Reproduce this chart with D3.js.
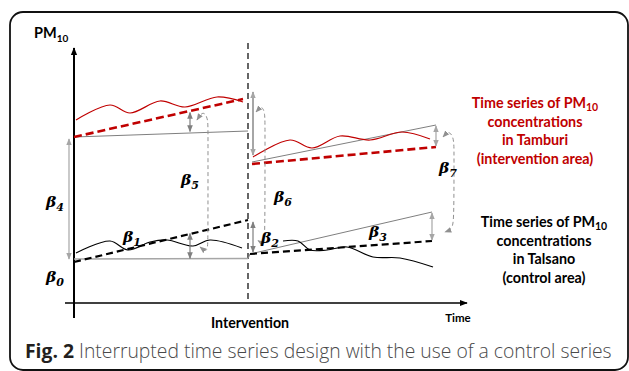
<!DOCTYPE html>
<html>
<head>
<meta charset="utf-8">
<script src="https://cdn.jsdelivr.net/npm/d3@7"></script>
<style>
  body { margin: 0; background: #fff; }
  svg { display: block; }
</style>
</head>
<body>
<svg id="chart"></svg>
<script>
// schematic units: time 0-100, PM10 0-100
const tamburiPre = [[0.5,73.2],[9,79.2],[14,76],[21.5,80.8],[27.75,78.4],[35.75,82.4],[42.25,80.4]];
const tamburiPost = [[44.75,58.4],[54,65.2],[59.5,62],[66.5,66.8],[74,65.2],[82,68.4],[89,65.6]];
const talsanoPre = [[0.5,20],[9,24.8],[13.5,21.2],[19,24.4],[23.25,25.2],[29.75,22.8],[34,25.2],[42,22]];
const talsanoPost = [[52.25,24.8],[56,24.8],[59,21.2],[63.25,21.2],[68.25,22.4],[74.75,18.4],[81.5,18],[89.75,14.4]];

const tamburiTrendPre = [[0,66.4],[42.25,81.6]];
const tamburiTrendPost = [[44.5,55.6],[90.5,62.4]];
const tamburiCounterPre = [[0,66.4],[43.5,68.8]];
const tamburiCounterPost = [[44.5,56.4],[90.5,71.2]];
const talsanoTrendPre = [[0,16.4],[43.5,33.2]];
const talsanoTrendPost = [[44,19.6],[89.5,24.8]];
const talsanoCounterPre = [[0,17.6],[43.5,17.8]];
const talsanoCounterPost = [[43.5,17.8],[44,19.6],[89.5,36.4]];

const interventionT = 43.5;

// [time, from, to] of the gap arrows, beta 4,5,1,6,2,7,3
const gapArrows = [[-1.25,65.6,17.6],[29,68.6,76.2],[29,17.8,27.8],[44.75,84.4,59.2],[44.75,32.4,20.4],[90.5,70.8,62.8],[89.5,36,25.2]];

// dashed links between paired gaps
const linkB5B1 = [[30.75,73.2],[32.25,77],[33.5,74],[33.5,69],[33.5,25],[33.4,20],[31.5,22.4]];
const linkB6B2 = [[45.5,76.4],[47,79],[47.75,76],[47.75,70],[47.75,28],[47.5,23.5],[46,25]];
const linkB7B3 = [[92.25,66.4],[93.75,69],[95,66],[95,60],[95,34],[94.6,29.5],[92.75,28.4]];

const betaNames = ["0","4","1","5","6","2","3","7"];
const betaT = [-4.75,-4.75,14.5,29,52.25,49,76,93.5];
const betaV = [10.4,40.4,26.4,49.2,42.4,26,28.4,54];

const redLabel = ["Time series of PM|10","concentrations","in Tamburi","(intervention area)"];
const blackLabel = ["Time series of PM|10","concentrations","in Talsano","(control area)"];

const W = 629, H = 371;
const red = "#c00000";

const svg = d3.select("#chart").attr("width", W).attr("height", H);

const x = d3.scaleLinear().domain([0, 100]).range([74, 474]);
const y = d3.scaleLinear().domain([0, 100]).range([303, 53]);

const defs = svg.append("defs");
function marker(id, color, size) {
  defs.append("marker")
    .attr("id", id)
    .attr("viewBox", "0 0 10 10")
    .attr("refX", 9).attr("refY", 5)
    .attr("markerUnits", "userSpaceOnUse")
    .attr("markerWidth", size).attr("markerHeight", size)
    .attr("orient", "auto-start-reverse")
    .append("path").attr("d", "M0,1L10,5L0,9z").attr("fill", color);
}
marker("axisHead", "#000", 8);
marker("grayHead", "#7f7f7f", 7);
marker("lightHead", "#a6a6a6", 7);
marker("linkHead", "#909090", 7);

// frame
svg.append("rect")
  .attr("x", 10).attr("y", 12)
  .attr("width", 618).attr("height", 358)
  .attr("rx", 13)
  .attr("fill", "none").attr("stroke", "#111").attr("stroke-width", 1.8);

const line = d3.line().x(d => x(d[0])).y(d => y(d[1]));
const wavy = d3.line().x(d => x(d[0])).y(d => y(d[1])).curve(d3.curveCatmullRom);
const smooth = d3.line().x(d => x(d[0])).y(d => y(d[1])).curve(d3.curveBasis);

// axes
svg.append("line")
  .attr("x1", x(0)).attr("x2", x(0))
  .attr("y1", y(-6)).attr("y2", y(102))
  .attr("stroke", "#000").attr("stroke-width", 2)
  .attr("marker-end", "url(#axisHead)");
svg.append("line")
  .attr("x1", x(-2.25)).attr("x2", x(98.25))
  .attr("y1", y(0)).attr("y2", y(0))
  .attr("stroke", "#000").attr("stroke-width", 1.5)
  .attr("marker-end", "url(#axisHead)");

svg.append("line")
  .attr("x1", x(interventionT)).attr("x2", x(interventionT))
  .attr("y1", y(104)).attr("y2", y(0))
  .attr("stroke", "#000").attr("stroke-width", 1.2)
  .attr("stroke-dasharray", "6,4");

// counterfactual lines
[tamburiCounterPre, tamburiCounterPost, talsanoCounterPost].forEach(d => {
  svg.append("path").attr("d", line(d))
    .attr("fill", "none").attr("stroke", "#7f7f7f").attr("stroke-width", 1);
});
svg.append("path").attr("d", line(talsanoCounterPre))
  .attr("fill", "none").attr("stroke", "#a6a6a6").attr("stroke-width", 1.5);

// observed series
[tamburiPre, tamburiPost].forEach(d => {
  svg.append("path").attr("d", wavy(d))
    .attr("fill", "none").attr("stroke", red).attr("stroke-width", 1.2);
});
[talsanoPre, talsanoPost].forEach(d => {
  svg.append("path").attr("d", wavy(d))
    .attr("fill", "none").attr("stroke", "#000").attr("stroke-width", 1.2);
});

// trend lines
[tamburiTrendPre, tamburiTrendPost].forEach(d => {
  svg.append("path").attr("d", line(d))
    .attr("fill", "none").attr("stroke", red).attr("stroke-width", 2.6)
    .attr("stroke-dasharray", "8,4");
});
[talsanoTrendPre, talsanoTrendPost].forEach(d => {
  svg.append("path").attr("d", line(d))
    .attr("fill", "none").attr("stroke", "#000").attr("stroke-width", 2.2)
    .attr("stroke-dasharray", "7,4");
});

// gap arrows
const lightIdx = [0, 3, 5, 6];
gapArrows.forEach((a, i) => {
  const light = lightIdx.includes(i);
  svg.append("line")
    .attr("x1", x(a[0])).attr("x2", x(a[0]))
    .attr("y1", y(a[1])).attr("y2", y(a[2]))
    .attr("stroke", light ? "#a6a6a6" : "#7f7f7f")
    .attr("stroke-width", i === 3 ? 2 : 1.2)
    .attr("marker-start", light ? "url(#lightHead)" : "url(#grayHead)")
    .attr("marker-end", light ? "url(#lightHead)" : "url(#grayHead)");
});

[linkB5B1, linkB6B2, linkB7B3].forEach(d => {
  svg.append("path").attr("d", smooth(d))
    .attr("fill", "none").attr("stroke", "#909090").attr("stroke-width", 1)
    .attr("stroke-dasharray", "4,3")
    .attr("marker-start", "url(#linkHead)")
    .attr("marker-end", "url(#linkHead)");
});

// beta labels
betaNames.forEach((n, i) => {
  const t = svg.append("text")
    .attr("x", x(betaT[i])).attr("y", y(betaV[i]) + 5)
    .attr("text-anchor", "middle")
    .attr("font-family", "'DejaVu Serif', serif")
    .attr("font-style", "italic").attr("font-weight", "bold")
    .attr("font-size", 15.5).attr("fill", "#000");
  t.append("tspan").text("\u03B2");
  t.append("tspan").attr("dy", 4).attr("font-size", 11).text(n);
});

// axis titles
const sans = "Lato, 'Open Sans', sans-serif";
const pm = svg.append("text").attr("x", 34).attr("y", 38)
  .attr("font-family", sans).attr("font-weight", "bold").attr("font-size", 14.5);
pm.append("tspan").text("PM");
pm.append("tspan").attr("dy", 4).attr("font-size", 10).text("10");

svg.append("text").attr("x", x(interventionT) + 2).attr("y", 328)
  .attr("text-anchor", "middle")
  .attr("font-family", sans).attr("font-weight", "bold").attr("font-size", 14.2)
  .text("Intervention");
svg.append("text").attr("x", 458).attr("y", 322)
  .attr("text-anchor", "middle")
  .attr("font-family", sans).attr("font-weight", "bold").attr("font-size", 11.5)
  .text("Time");

function block(lines, cx, y0, color) {
  lines.forEach((s, i) => {
    const parts = s.split("|");
    const t = svg.append("text")
      .attr("x", cx).attr("y", y0 + i * 18.7)
      .attr("text-anchor", "middle")
      .attr("font-family", sans).attr("font-weight", "bold")
      .attr("font-size", 14.3).attr("fill", color);
    t.append("tspan").text(parts[0]);
    if (parts[1]) t.append("tspan").attr("dy", 3).attr("font-size", 10.5).text(parts[1]);
  });
}
block(redLabel, 535, 108, red);
block(blackLabel, 544, 227, "#000");

// caption, sized to span the frame like the original
const cap = svg.append("text").attr("x", 25).attr("y", 358)
  .attr("font-family", "'Open Sans', sans-serif").attr("font-size", 17);
cap.append("tspan").attr("font-weight", "bold").attr("fill", "#231f20").text("Fig. 2");
cap.append("tspan").attr("font-weight", 300).attr("fill", "#4a4a4a")
  .text(" Interrupted time series design with the use of a control series");
const capW = cap.node().getComputedTextLength();
cap.attr("font-size", 17 * 587 / capW);
</script>
</body>
</html>
